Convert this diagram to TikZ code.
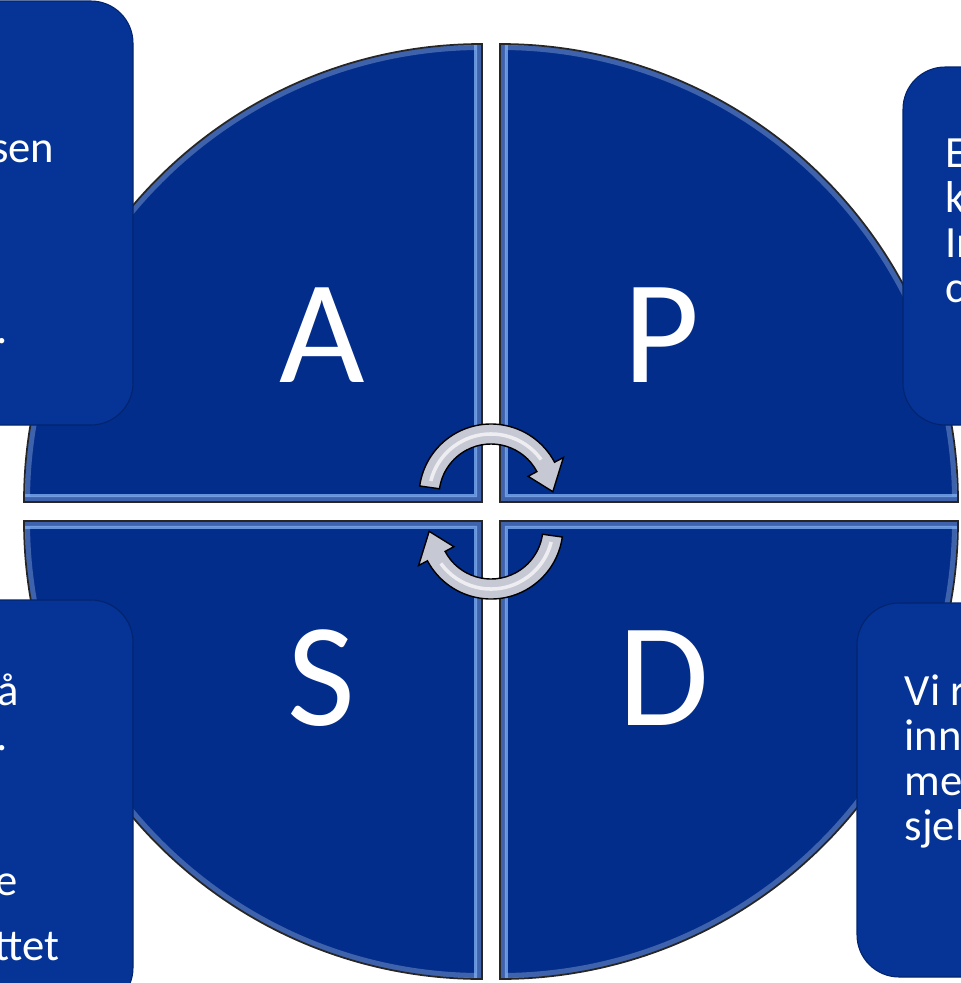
\documentclass[tikz,border=0pt]{standalone}
\usepackage{fontspec}
\setmainfont{Carlito}
\usetikzlibrary{positioning}

\definecolor{quadblue}{RGB}{3,45,138}
\definecolor{boxblue}{RGB}{5,52,150}
\definecolor{bevelblue}{RGB}{62,98,172}
\definecolor{shineblue}{RGB}{125,172,240}
\definecolor{arrowgray}{RGB}{198,200,212}

\tikzset{
  quad/.style={fill=quadblue},
  rim/.style={draw=black!85, line width=0.5pt},
  infobox/.style={fill=boxblue, draw=quadblue!80!black, line width=0.3pt, rounded corners=12pt},
  boxtext/.style={text=white, font=\fontsize{12.7}{13}\selectfont, inner sep=0pt},
  letter/.style={text=white, font=\fontsize{42}{42}\selectfont, inner sep=0pt},
  turn/.style={fill=arrowgray, draw=black, line width=0.4pt}
}

\begin{document}
\begin{tikzpicture}[x=0.1mm, y=0.1mm]
  \useasboundingbox (0,0) rectangle (961,-983);

  % Four quarter discs with bevelled rims
  \foreach \cx/\cy/\a in {482/502/90, 500/502/0, 482/521/180, 500/521/270} {
    \fill[quad] (\cx,-\cy) -- ++(\a:458) arc[start angle=\a, end angle=\a+90, radius=458] -- cycle;
    \begin{scope}
      \clip (\cx,-\cy) -- ++(\a:458) arc[start angle=\a, end angle=\a+90, radius=458] -- cycle;
      \draw[bevelblue, line width=3.4pt] (\cx,-\cy) -- ++(\a:458) arc[start angle=\a, end angle=\a+90, radius=458] -- cycle;
      \draw[shineblue, line width=0.9pt, opacity=0.8] ([shift={(\a+45:9)}]\cx,-\cy) -- ++(\a:452) arc[start angle=\a, end angle=\a+90, radius=452] -- cycle;
    \end{scope}
    \draw[rim] (\cx,-\cy) -- ++(\a:458) arc[start angle=\a, end angle=\a+90, radius=458] -- cycle;
  }

  % Letters
  \node[letter, anchor=base] (lA) at (322,-382) {A};
  \node[letter, anchor=base] (lP) at (662,-382) {P};
  \node[letter, anchor=base] (lS) at (321,-725) {S};
  \node[letter, anchor=base] (lD) at (664,-725) {D};

  % Turning arrows
  \coordinate (ctop) at (491,-496);
  \coordinate (cbot) at (491,-527);
  \foreach \c/\r in {ctop/0, cbot/180} {
    \draw[turn] ([shift={(\r+172:72)}]\c) arc[start angle=\r+172, end angle=\r+28, radius=72]
      -- ([shift={(\r+28:82)}]\c) -- ([shift={(\r+4:62)}]\c) -- ([shift={(\r+28:42)}]\c)
      -- ([shift={(\r+28:52)}]\c) arc[start angle=\r+28, end angle=\r+172, radius=52] -- cycle;
    \draw[white!70!arrowgray, line width=1pt] ([shift={(\r+166:62)}]\c) arc[start angle=\r+166, end angle=\r+36, radius=62];
  }

  % Text boxes
  \fill[infobox] (-100,-1) rectangle (133,-425);
  \fill[infobox] (903,-67) rectangle (1100,-425);
  \fill[infobox] (-100,-600) rectangle (133,-1010);
  \fill[infobox] (857,-603) rectangle (1100,-977);

  % Box texts
  \node[boxtext, anchor=base east] (tl1) at (55,-162) {sen};
  \node[boxtext, anchor=base east] (tl2) at (8,-343) {.};
  \foreach \t/\y [count=\i] in {E/167, k/212, In/257, c/302} {
    \node[boxtext, anchor=base west] (tr\i) at (945,-\y) {\t};
  }
  \foreach \t/\x/\y [count=\i] in {å/20/705, ./8/750, e/18/895, ttet/60/960} {
    \node[boxtext, anchor=base east] (bl\i) at (\x,-\y) {\t};
  }
  \foreach \t/\y [count=\i] in {Vi r/705, inn/750, me/795, sjel/840} {
    \node[boxtext, anchor=base west] (br\i) at (904,-\y) {\t};
  }
\end{tikzpicture}
\end{document}
